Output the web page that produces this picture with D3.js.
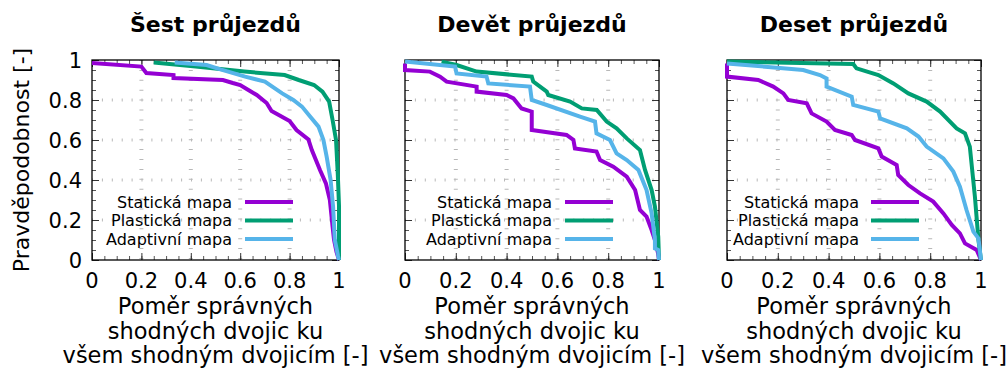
<!DOCTYPE html>
<html>

<head>
    <meta charset="utf-8">
    <title>Průjezdy</title>
    <script src="https://cdnjs.cloudflare.com/ajax/libs/d3/7.8.5/d3.min.js"></script>
    <style>
        body { margin: 0; background: #fff; }
        text { font-family: "DejaVu Sans", sans-serif; fill: #000; }
    </style>
</head>

<body>
    <script>
        // data
        var titles = ["Šest průjezdů", "Devět průjezdů", "Deset průjezdů"];
        var seriesNames = ["Statická mapa", "Plastická mapa", "Adaptivní mapa"];
        var tickLabels = ["0", "0.2", "0.4", "0.6", "0.8", "1"];
        var tickValues = [0, 0.2, 0.4, 0.6, 0.8, 1];
        var yTitle = "Pravděpodobnost [-]";
        var xTitle = ["Poměr správných", "shodných dvojic ku", "všem shodným dvojicím [-]"];

        var sestStaticka = [[0,0.985],[0.2,0.967],[0.22,0.935],[0.33,0.925],[0.33,0.91],[0.53,0.90],[0.57,0.885],
            [0.60,0.875],[0.633,0.85],[0.667,0.825],[0.707,0.785],[0.727,0.745],[0.80,0.695],[0.828,0.65],
            [0.876,0.603],[0.89,0.55],[0.923,0.45],[0.947,0.383],[0.963,0.30],[0.974,0.167],[0.98,0.10],
            [0.99,0.04],[1,0]];
        var sestPlasticka = [[0.25,0.988],[0.42,0.967],[0.617,0.942],[0.78,0.925],[0.837,0.90],[0.899,0.875],
            [0.933,0.842],[0.96,0.792],[0.974,0.70],[0.988,0.60],[0.995,0.433],[1,0.27],[1,0]];
        var sestAdaptivni = [[0.335,0.988],[0.464,0.975],[0.52,0.953],[0.62,0.917],[0.70,0.892],[0.77,0.833],
            [0.815,0.80],[0.85,0.767],[0.883,0.717],[0.917,0.667],[0.937,0.60],[0.95,0.517],[0.966,0.40],
            [0.976,0.267],[0.983,0.10],[0.996,0.02],[1,0]];

        var devetStaticka = [[0,0.983],[0,0.95],[0.098,0.942],[0.138,0.917],[0.164,0.892],[0.282,0.867],
            [0.282,0.842],[0.40,0.825],[0.427,0.808],[0.459,0.758],[0.499,0.742],[0.499,0.65],[0.636,0.625],
            [0.663,0.60],[0.669,0.558],[0.754,0.542],[0.768,0.50],[0.82,0.467],[0.873,0.417],[0.906,0.35],
            [0.925,0.25],[0.951,0.217],[0.971,0.15],[0.984,0.10],[0.997,0.03],[1,0]];
        var devetPlasticka = [[0.144,0.992],[0.203,0.975],[0.282,0.942],[0.499,0.917],[0.505,0.892],[0.558,0.842],
            [0.564,0.825],[0.65,0.792],[0.696,0.758],[0.755,0.75],[0.794,0.692],[0.833,0.658],[0.873,0.608],
            [0.925,0.55],[0.945,0.45],[0.971,0.35],[0.984,0.267],[0.997,0.117],[1,0]];
        var devetAdaptivni = [[0,0.992],[0.197,0.967],[0.203,0.933],[0.321,0.917],[0.328,0.883],[0.492,0.867],
            [0.499,0.80],[0.558,0.775],[0.689,0.717],[0.748,0.692],[0.754,0.633],[0.807,0.60],[0.833,0.533],
            [0.873,0.50],[0.919,0.45],[0.951,0.35],[0.971,0.233],[0.984,0.10],[0.984,0.058],[0.997,0.05],[1,0]];

        var desetStaticka = [[0,0.983],[0,0.917],[0.123,0.90],[0.182,0.867],[0.222,0.833],[0.241,0.80],
            [0.314,0.783],[0.333,0.733],[0.392,0.692],[0.425,0.65],[0.491,0.625],[0.504,0.60],[0.596,0.558],
            [0.609,0.517],[0.668,0.475],[0.674,0.425],[0.714,0.375],[0.76,0.333],[0.812,0.292],[0.852,0.233],
            [0.885,0.175],[0.917,0.133],[0.937,0.083],[0.983,0.05],[1,0]];
        var desetPlasticka = [[0,0.992],[0.497,0.98],[0.51,0.958],[0.596,0.925],[0.655,0.883],[0.714,0.833],
            [0.786,0.792],[0.839,0.742],[0.904,0.658],[0.937,0.633],[0.956,0.567],[0.976,0.317],[0.99,0.10],[1,0]];
        var desetAdaptivni = [[0,0.983],[0.30,0.95],[0.366,0.925],[0.392,0.908],[0.392,0.867],[0.491,0.817],
            [0.497,0.775],[0.596,0.742],[0.603,0.708],[0.708,0.658],[0.754,0.617],[0.786,0.567],[0.852,0.508],
            [0.891,0.442],[0.917,0.367],[0.943,0.25],[0.97,0.142],[0.99,0.108],[1,0]];

        var panelSeries = [
            [sestStaticka, sestPlasticka, sestAdaptivni],
            [devetStaticka, devetPlasticka, devetAdaptivni],
            [desetStaticka, desetPlasticka, desetAdaptivni]
        ];

        // layout
        var w = 1006, h = 369;
        var colors = ["#9400d3", "#009e73", "#56b4e9"];
        var panelLeft = [92, 405, 727], panelWidth = [247, 254, 254];
        var plotTop = 60, ph = 200;
        var legendTextEnd = [232, 552, 859], legendLine = [[245, 293], [565, 613], [871, 919]];
        var legendRows = [202, 220.5, 239];

        var svg = d3.select("body")
            .append("svg")
            .attr("width", w)
            .attr("height", h);

        var minor = d3.range(0, 1.0001, 0.05);

        panelSeries.forEach(function(series, p) {
            var x = d3.scaleLinear().domain([0, 1]).range([panelLeft[p], panelLeft[p] + panelWidth[p]]);
            var y = d3.scaleLinear().domain([0, 1]).range([plotTop + ph, plotTop]);
            var g = svg.append("g");

            // grid
            g.selectAll(".gx").data(tickValues.slice(1, -1)).enter().append("line")
                .attr("x1", d => x(d)).attr("x2", d => x(d))
                .attr("y1", plotTop).attr("y2", plotTop + ph)
                .attr("stroke", "#b8b8b8").attr("stroke-width", 4)
                .attr("stroke-dasharray", "1,8.9");
            g.selectAll(".gy").data(tickValues.slice(1, -1)).enter().append("line")
                .attr("y1", d => y(d)).attr("y2", d => y(d))
                .attr("x1", x(0)).attr("x2", x(1))
                .attr("stroke", "#b8b8b8").attr("stroke-width", 3)
                .attr("stroke-dasharray", "1,8.9");

            // ticks mirrored inside on all four sides
            var axes = [
                [() => d3.axisBottom(x), "translate(0," + plotTop + ")"],
                [() => d3.axisTop(x), "translate(0," + (plotTop + ph) + ")"],
                [() => d3.axisRight(y), "translate(" + x(0) + ",0)"],
                [() => d3.axisLeft(y), "translate(" + x(1) + ",0)"]
            ];
            axes.forEach(function(a) {
                [[minor, 4, "#555"], [tickValues, 7, "#333"]].forEach(function(t) {
                    g.append("g").attr("transform", a[1])
                        .call(a[0]().tickValues(t[0]).tickSize(t[1]).tickFormat(""))
                        .call(s => s.select(".domain").remove())
                        .selectAll("line").attr("stroke", t[2]);
                });
            });

            g.append("rect")
                .attr("x", x(0)).attr("y", plotTop)
                .attr("width", x(1) - x(0)).attr("height", ph)
                .attr("fill", "none").attr("stroke", "#000").attr("stroke-width", 1.3);

            // tick labels
            g.selectAll(".xl").data(tickValues).enter().append("text")
                .attr("x", d => x(d)).attr("y", 288)
                .attr("text-anchor", "middle").attr("font-size", 21)
                .text((d, i) => tickLabels[i]);
            if (p === 0) {
                g.selectAll(".yl").data(tickValues).enter().append("text")
                    .attr("x", x(0) - 10).attr("y", d => y(d) + 7.5)
                    .attr("text-anchor", "end").attr("font-size", 21)
                    .text((d, i) => tickLabels[i]);
                g.append("text")
                    .attr("transform", "translate(29," + (plotTop + ph / 2) + ") rotate(-90)")
                    .attr("text-anchor", "middle").attr("font-size", 22)
                    .text(yTitle);
            }

            // title and x label
            var cx = (x(0) + x(1)) / 2;
            g.append("text").attr("x", cx).attr("y", 32)
                .attr("text-anchor", "middle").attr("font-size", 22).attr("font-weight", "bold")
                .text(titles[p]);
            g.selectAll(".xt").data(xTitle).enter().append("text")
                .attr("x", cx).attr("y", (d, i) => 314 + i * 24.5)
                .attr("text-anchor", "middle").attr("font-size", 22.5)
                .text(d => d);

            // curves
            var line = d3.line().x(d => x(d[0])).y(d => y(d[1]));
            g.selectAll(".curve").data(series).enter().append("path")
                .attr("d", line)
                .attr("fill", "none")
                .attr("stroke", (d, i) => colors[i])
                .attr("stroke-width", 4)
                .attr("stroke-linejoin", "miter");

            // legend
            seriesNames.forEach(function(name, i) {
                g.append("text").attr("x", legendTextEnd[p]).attr("y", legendRows[i] + 5.5)
                    .attr("text-anchor", "end").attr("font-size", 16).text(name);
                g.append("line")
                    .attr("x1", legendLine[p][0]).attr("x2", legendLine[p][1])
                    .attr("y1", legendRows[i]).attr("y2", legendRows[i])
                    .attr("stroke", colors[i]).attr("stroke-width", 4);
            });
        });
    </script>
</body>

</html>
